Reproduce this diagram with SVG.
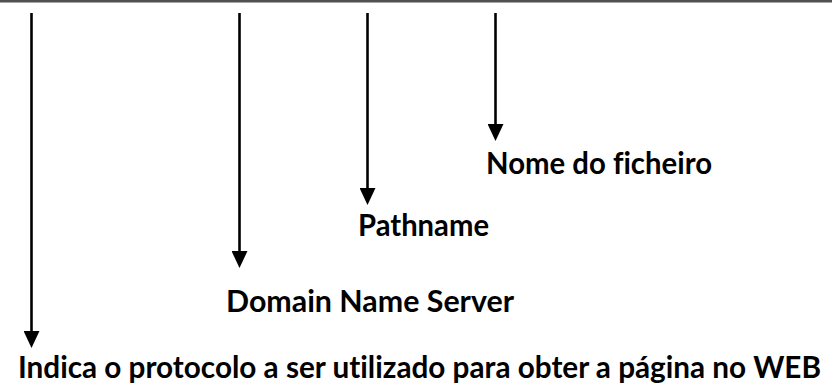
<svg xmlns="http://www.w3.org/2000/svg" width="832" height="385" viewBox="0 0 832 385">
<style>
.lbl{font-family:Lato,"Open Sans","Liberation Sans",sans-serif;font-weight:bold;font-size:30px;fill:#000;font-variant-ligatures:none}
.con{stroke:#000;stroke-width:2.6;fill:none;marker-end:url(#ah)}
</style>
<defs>
<marker id="ah" markerUnits="userSpaceOnUse" markerWidth="17" markerHeight="16" refX="0" refY="8" orient="auto" viewBox="0 0 17 16">
<path d="M0,0 L17,8 L0,16 z" fill="#000"/>
</marker>
</defs>
<rect x="0" y="0" width="832" height="2.5" fill="#505050"/>
<g id="connectors">
<line class="con" x1="31.5" y1="13" x2="31.5" y2="331"/>
<line class="con" x1="239.5" y1="13" x2="239.5" y2="251"/>
<line class="con" x1="367.5" y1="13" x2="367.5" y2="188"/>
<line class="con" x1="495.5" y1="13" x2="495.5" y2="124"/>
</g>
<g id="nome"><text class="lbl" x="486" y="174" textLength="226" lengthAdjust="spacingAndGlyphs">Nome do ficheiro</text></g>
<g id="pathname"><text class="lbl" x="358" y="236" textLength="131" lengthAdjust="spacingAndGlyphs">Pathname</text></g>
<g id="domain"><text class="lbl" x="226" y="312" textLength="288" lengthAdjust="spacingAndGlyphs">Domain Name Server</text></g>
<g id="indica"><text class="lbl" x="18" y="378" textLength="803" lengthAdjust="spacingAndGlyphs">Indica o protocolo a ser utilizado para obter a página no WEB</text></g>
</svg>
